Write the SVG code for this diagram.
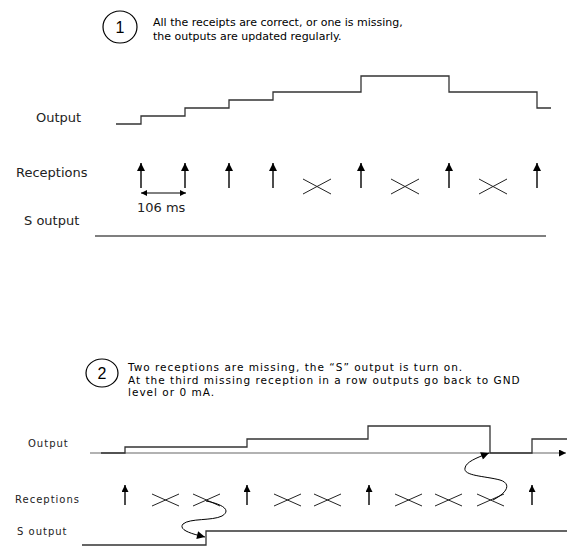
<svg xmlns="http://www.w3.org/2000/svg" width="567" height="552" viewBox="0 0 567 552">
<defs>
<style>
.lbl{font-family:"DejaVu Sans",Verdana,sans-serif;font-size:13px;fill:#222}
.lbl2{font-family:"DejaVu Sans",Verdana,sans-serif;font-size:10px;letter-spacing:1px;fill:#222}
.hdr{font-family:"DejaVu Sans",Verdana,sans-serif;font-size:11px;fill:#000}
.hdr2{font-family:"DejaVu Sans",Verdana,sans-serif;font-size:10.5px;letter-spacing:1px;fill:#000}
.num{font-family:"Liberation Sans",Arial,sans-serif;font-size:16px;fill:#000;text-anchor:middle}
.ring{fill:none;stroke:#000;stroke-width:1.2}
.sig{fill:none;stroke:#333;stroke-width:1.3}
.axis{fill:none;stroke:#666;stroke-width:1.2}
.rx{stroke:#000;stroke-width:1.4;fill:none}
.cross{stroke:#222;stroke-width:1;fill:none}
.curve{stroke:#000;stroke-width:1;fill:none}
</style>
<marker id="ah" viewBox="0 0 10 10" refX="10" refY="5" markerWidth="10" markerHeight="8" markerUnits="userSpaceOnUse" orient="auto"><path d="M0,0 L10,5 L0,10 Z" fill="#000"/></marker>
<marker id="ahs" viewBox="0 0 10 10" refX="10" refY="5" markerWidth="8" markerHeight="7" markerUnits="userSpaceOnUse" orient="auto"><path d="M0,0 L10,5 L0,10 Z" fill="#000"/></marker>
<marker id="ahd" viewBox="0 0 10 10" refX="10" refY="5" markerWidth="7" markerHeight="6" markerUnits="userSpaceOnUse" orient="auto-start-reverse"><path d="M0,0 L10,5 L0,10 Z" fill="#000"/></marker>
</defs>

<!-- Section 1 -->
<g id="header1">
<ellipse class="ring" cx="120" cy="27" rx="17" ry="16"/>
<text class="num" x="120" y="33">1</text>
<text class="hdr" x="153" y="26">All the receipts are correct, or one is missing,</text>
<text class="hdr" x="153" y="40">the outputs are updated regularly.</text>
</g>
<g id="labels1">
<text class="lbl" x="36" y="122">Output</text>
<text class="lbl" x="16" y="177">Receptions</text>
<text class="lbl" x="137" y="212">106 ms</text>
<text class="lbl" x="24" y="225">S output</text>
</g>
<g id="output1">
<path class="sig" d="M116,124 H141 V116 H185 V108 H229 V100 H273 V92 H361 V76 H449 V92 H537 V108 H551"/>
</g>
<g id="soutput1">
<line x1="95" y1="236" x2="546" y2="236" stroke="#000" stroke-width="1.2"/>
</g>
<g id="receptions1">
<line class="rx" x1="141" y1="188" x2="141" y2="163" marker-end="url(#ah)"/>
<line class="rx" x1="185" y1="188" x2="185" y2="163" marker-end="url(#ah)"/>
<line class="rx" x1="229" y1="188" x2="229" y2="163" marker-end="url(#ah)"/>
<line class="rx" x1="273" y1="188" x2="273" y2="163" marker-end="url(#ah)"/>
<line class="rx" x1="361" y1="188" x2="361" y2="163" marker-end="url(#ah)"/>
<line class="rx" x1="449" y1="188" x2="449" y2="163" marker-end="url(#ah)"/>
<line class="rx" x1="537" y1="188" x2="537" y2="163" marker-end="url(#ah)"/>
<path class="cross" d="M303,179 L331,194 M303,194 L331,179"/>
<path class="cross" d="M391,179 L419,194 M391,194 L419,179"/>
<path class="cross" d="M479,179 L507,194 M479,194 L507,179"/>
</g>
<g id="connectors1">
<line x1="141" y1="193" x2="186" y2="193" stroke="#000" stroke-width="1" marker-start="url(#ahd)" marker-end="url(#ahd)"/>
</g>

<!-- Section 2 -->
<g id="header2">
<ellipse class="ring" cx="102" cy="373" rx="16" ry="14"/>
<text class="num" x="102" y="379">2</text>
<text class="hdr2" x="128" y="371">Two receptions are missing, the “S” output is turn on.</text>
<text class="hdr2" x="128" y="384">At the third missing reception in a row outputs go back to GND</text>
<text class="hdr2" x="128" y="396">level or 0 mA.</text>
</g>
<g id="labels2">
<text class="lbl2" x="28" y="447">Output</text>
<text class="lbl2" x="15" y="503">Receptions</text>
<text class="lbl2" x="17" y="535">S output</text>
</g>
<g id="output2">
<line class="axis" x1="90" y1="453" x2="566" y2="453" marker-end="url(#ahs)"/>
<path class="sig" d="M101,453 H125 V447 H247 V439 H368 V426 H490 V453 H532 V439 H567"/>
</g>
<g id="soutput2">
<path class="sig" d="M82,545 H206 V531 H567"/>
</g>
<g id="receptions2">
<line class="rx" x1="125" y1="505" x2="125" y2="485" marker-end="url(#ahs)"/>
<line class="rx" x1="247" y1="505" x2="247" y2="485" marker-end="url(#ahs)"/>
<line class="rx" x1="369" y1="505" x2="369" y2="485" marker-end="url(#ahs)"/>
<line class="rx" x1="532" y1="505" x2="532" y2="485" marker-end="url(#ahs)"/>
<path class="cross" d="M152,494 L179,506 M152,506 L179,494"/>
<path class="cross" d="M193,494 L220,506 M193,506 L220,494"/>
<path class="cross" d="M274,494 L301,506 M274,506 L301,494"/>
<path class="cross" d="M314,494 L341,506 M314,506 L341,494"/>
<path class="cross" d="M395,494 L422,506 M395,506 L422,494"/>
<path class="cross" d="M435,494 L462,506 M435,506 L462,494"/>
<path class="cross" d="M477,494 L504,506 M477,506 L504,494"/>
</g>
<g id="connectors2">
<path class="curve" d="M493,500 C510,491 510,483 500,480 C485,476 463,476 465,468 C466,462 476,458 489,453" marker-end="url(#ah)"/>
<path class="curve" d="M206,501 C222,504 232,510 222,516 C212,521 190,518 183,524 C178,530 192,534 205,537" marker-end="url(#ah)"/>
</g>
</svg>
